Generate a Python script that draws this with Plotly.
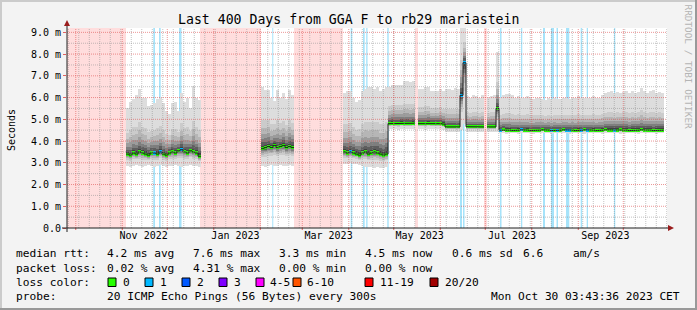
import pandas as pd
import plotly.graph_objects as go

# ------------------------------------------------------------------ data
T_END = pd.Timestamp("2023-10-30 03:43:36")
T_START = T_END - pd.Timedelta(days=400)
BIN = pd.Timedelta(days=2)

seg_A_start = "2022-11-03 12:00"
med_A = [3.40, 3.35, 3.45, 3.40, 3.50, 3.45, 3.40, 3.35, 3.45, 3.45, 3.40, 3.50, 3.40,
         3.35, 3.45, 3.50, 3.45, 3.55, 3.60, 3.50, 3.45, 3.55, 3.50, 3.45, 3.30]
lo_A = [2.85, 2.80, 2.85, 2.90, 2.85, 2.80, 2.85, 2.90, 2.85, 2.80, 2.85, 2.90, 2.85,
        2.80, 2.85, 2.85, 2.90, 2.85, 2.80, 2.85, 2.85, 2.90, 2.85, 2.85, 2.80]
hi_A = [5.5, 5.8, 5.95, 6.1, 6.4, 6.0, 6.0, 5.6, 5.65, 5.75, 5.95, 6.0, 5.75,
        5.4, 5.25, 5.75, 5.8, 5.4, 6.2, 5.8, 6.0, 5.5, 6.55, 6.0, 5.9]

seg_B_start = "2023-02-01 12:00"
med_B = [3.65, 3.70, 3.75, 3.70, 3.80, 3.70, 3.75, 3.80, 3.70, 3.75, 3.70]
lo_B = [2.85, 2.80, 2.85, 2.90, 2.85, 2.85, 2.90, 2.85, 2.85, 2.90, 2.85]
hi_B = [6.5, 6.35, 6.35, 6.0, 5.85, 6.35, 6.0, 6.2, 5.95, 6.35, 6.1]

seg_C_start = "2023-03-28 04:00"
med_C = [3.50, 3.45, 3.50, 3.45, 3.40, 3.35, 3.45, 3.50, 3.40, 3.45, 3.50, 3.45, 3.40, 3.35, 3.40,
         4.80, 4.82, 4.80, 4.80, 4.82, 4.80, 4.80, 4.80, 4.82, None, 4.80, 4.80, 4.80, 4.82, 4.80,
         4.80, 4.80, 4.80, 4.78,
         4.65, 4.65, 4.66, 4.65, 4.65,
         6.10, 7.60,
         4.66, 4.65, 4.65, 4.66, 4.65, 4.65, None, 4.65, 4.66, 4.65,
         5.50,
         4.50, 4.52, 4.50, 4.50, 4.48, 4.50, 4.50, 4.52, 4.50, 4.50,
         4.48, 4.50, 4.50, 4.50, 4.52, 4.50, 4.50, 4.48, 4.50, 4.50,
         4.50, 4.52, 4.50, 4.50, 4.50, 4.48, 4.50, 4.50, 4.52, 4.50,
         4.50, 4.50, 4.48, 4.50, 4.50, 4.52, 4.50, 4.50, 4.50, 4.50,
         4.52, 4.50, 4.50, 4.48, 4.50, 4.50, 4.50, 4.52, 4.50, 4.50,
         4.50, 4.48, 4.50, 4.50, 4.50]
lo_C = [2.95, 2.95, 3.00, 2.95, 2.95, 2.90, 2.85, 2.80, 2.80, 2.80, 2.75, 2.80, 2.75, 2.75, 2.80,
        4.55, 4.55, 4.55, 4.50, 4.55, 4.55, 4.55, 4.55, 4.55, None, 4.55, 4.55, 4.50, 4.55, 4.55,
        4.55, 4.55, 4.55, 4.50,
        4.40, 4.40, 4.40, 4.40, 4.40,
        4.50, 4.80,
        4.40, 4.40, 4.40, 4.40, 4.40, 4.40, None, 4.40, 4.40, 4.40,
        4.40,
        4.35, 4.35, 4.33, 4.35, 4.35, 4.35, 4.33, 4.35, 4.35, 4.35,
        4.35, 4.33, 4.35, 4.35, 4.35, 4.35, 4.35, 4.33, 4.35, 4.35,
        4.35, 4.35, 4.35, 4.33, 4.35, 4.35, 4.35, 4.35, 4.33, 4.35,
        4.35, 4.35, 4.35, 4.35, 4.33, 4.35, 4.35, 4.35, 4.35, 4.35,
        4.33, 4.35, 4.35, 4.35, 4.35, 4.35, 4.33, 4.35, 4.35, 4.35,
        4.35, 4.35, 4.33, 4.35, 4.35]
hi_C = [6.2, 6.3, 6.3, 6.0, 5.8, 5.9, 6.3, 6.4, 6.5, 6.5, 6.4, 6.5, 6.3, 6.4, 6.5,
        6.5, 6.6, 6.6, 6.6, 6.6, 6.75, 6.75, 6.7, 6.75, None, 6.4, 6.4, 6.5, 6.5, 6.3,
        6.3, 6.3, 6.4, 6.3,
        6.4, 6.4, 6.35, 6.45, 6.4,
        9.6, 9.6,
        6.05, 6.0, 6.1, 6.05, 6.0, 6.1, None, 6.0, 6.05, 6.1,
        8.1,
        6.0, 6.1, 6.15, 6.15, 6.1, 6.0, 6.05, 6.0, 6.0, 6.05,
        6.0, 5.95, 6.0, 6.0, 5.95, 5.9, 6.0, 5.95, 6.0, 5.95,
        5.95, 6.0, 6.0, 5.95, 6.0, 6.0, 6.05, 6.0, 6.0, 6.0,
        6.0, 6.05, 6.0, 6.0, 6.1, 6.2, 6.25, 6.3, 6.2, 6.25,
        6.2, 6.25, 6.3, 6.2, 6.3, 6.2, 6.25, 6.45, 6.3, 6.2,
        6.3, 6.35, 6.2, 6.25, 6.2]

# periods with 1/20 lost pings (light blue background)
loss1_start = ["2022-11-21 16:00", "2022-11-25 12:00", "2022-12-08 20:00", "2023-02-09 00:00",
               "2023-04-02 07:00", "2023-04-10 12:00", "2023-04-12 15:00", "2023-04-26 16:00",
               "2023-06-14 04:00", "2023-06-16 04:00", "2023-07-10 20:00", "2023-07-24 20:00",
               "2023-08-08 12:00", "2023-08-13 20:00", "2023-08-17 12:00", "2023-08-23 20:00",
               "2023-09-02 15:00", "2023-09-06 15:00", "2023-09-24 20:00"]
loss1_end = ["2022-11-22 20:00", "2022-11-26 15:00", "2022-12-10 12:00", "2023-02-09 16:00",
             "2023-04-03 08:00", "2023-04-11 15:00", "2023-04-13 12:00", "2023-04-27 15:00",
             "2023-06-15 12:00", "2023-06-17 04:00", "2023-07-11 20:00", "2023-07-25 16:00",
             "2023-08-09 20:00", "2023-08-15 20:00", "2023-08-18 12:00", "2023-08-26 00:00",
             "2023-09-03 15:00", "2023-09-07 12:00", "2023-09-25 16:00"]
# periods with 20/20 lost pings (pink background)
loss20_start = ["2022-09-25 03:43:36", "2022-12-22 20:00", "2023-02-23 12:00",
                "2023-05-15 04:00", "2023-06-30 04:00"]
loss20_end = ["2022-11-03 12:00", "2023-02-01 12:00", "2023-03-28 04:00",
              "2023-05-17 04:00", "2023-07-02 04:00"]

loss_labels = ["0", "1", "2", "3", "4-5", "6-10", "11-19", "20/20"]
loss_colors = ["#26ff00", "#00b8ff", "#0059ff", "#7e00ff", "#ff00ff", "#ff5500", "#ff0000", "#a10000"]

x_tick_vals = ["2022-11-15 06:00", "2023-01-15 11:00", "2023-03-18 13:00",
               "2023-05-18 06:00", "2023-07-18 20:00", "2023-09-19 01:00"]
x_tick_text = ["Nov 2022", "Jan 2023", "Mar 2023", "May 2023", "Jul 2023", "Sep 2023"]
y_tick_vals = [0, 1, 2, 3, 4, 5, 6, 7, 8, 9]
y_tick_text = ["0.0", "1.0 m", "2.0 m", "3.0 m", "4.0 m", "5.0 m", "6.0 m", "7.0 m", "8.0 m", "9.0 m"]

title_text = "Last 400 Days from GGA F to rb29 mariastein"
rtt_row = ["median rtt:", "4.2 ms avg", "7.6 ms max", "3.3 ms min", "4.5 ms now", "0.6 ms sd", "6.6", "am/s"]
loss_row = ["packet loss:", "0.02 % avg", "4.31 % max", "0.00 % min", "0.00 % now"]
probe_row = ["probe:", "20 ICMP Echo Pings (56 Bytes) every 300s"]
date_text = "Mon Oct 30 03:43:36 2023 CET"

# ------------------------------------------------------------------ layout helpers
W, H = 697, 310
L, R, T, B = 67, 30, 28, 82
PW, PH = W - L - R, H - T - B
FONT = "DejaVu Sans Mono"


def px(x):
    return (x - L) / PW


def py(y):
    return (T + PH - y) / PH


# ------------------------------------------------------------------ flatten bins
segments = [(seg_A_start, med_A, lo_A, hi_A), (seg_B_start, med_B, lo_B, hi_B),
            (seg_C_start, med_C, lo_C, hi_C)]
t0s, meds, los, his = [], [], [], []
for start, m, lo, hi in segments:
    s = pd.Timestamp(start)
    for i in range(len(m)):
        t0s.append(s + i * BIN)
        meds.append(m[i])
        los.append(lo[i])
        his.append(hi[i])
centers = [t + BIN / 2 for t in t0s]

l1 = [(pd.Timestamp(a), pd.Timestamp(b)) for a, b in zip(loss1_start, loss1_end)]


def bin_color(t):
    for a, b in l1:
        ov = min(b, t + BIN) - max(a, t)
        if ov >= pd.Timedelta(hours=20):
            return loss_colors[1]
    return loss_colors[0]


fig = go.Figure()

# smoke: nested bands between min/median/max
band_fracs = [1.0, 0.47, 0.34, 0.24, 0.16, 0.10, 0.05]
band_cols = ["#dddddd", "#cbcbcb", "#b6b6b6", "#9c9c9c", "#7e7e7e", "#5e5e5e", "#414141"]
width_ms = BIN.total_seconds() * 1000
for f, c in zip(band_fracs, band_cols):
    base, hgt = [], []
    for m, lo, hi in zip(meds, los, his):
        if m is None:
            base.append(None)
            hgt.append(None)
            continue
        b0 = m - f * (m - lo)
        b1 = m + f * (hi - m)
        base.append(b0)
        hgt.append(b1 - b0)
    fig.add_trace(go.Bar(x=centers, y=hgt, base=base, width=width_ms,
                         marker=dict(color=c, line=dict(width=0)), hoverinfo="skip",
                         showlegend=False))

# median line (black, stepped)
lx, ly = [], []
prev_end = None
for t, m in zip(t0s, meds):
    if m is None:
        lx.append(None); ly.append(None)
        prev_end = None
        continue
    if prev_end is not None and prev_end != t:
        lx.append(None); ly.append(None)
    lx += [t, t + BIN]
    ly += [m, m]
    prev_end = t + BIN
fig.add_trace(go.Scatter(x=lx, y=ly, mode="lines", line=dict(color="#202020", width=1),
                         connectgaps=False, hoverinfo="skip", showlegend=False))

# median coloured by loss
mb, mh, mc = [], [], []
for t, m in zip(t0s, meds):
    if m is None:
        mb.append(None); mh.append(None); mc.append(loss_colors[0])
    else:
        mb.append(m - 0.07); mh.append(0.14); mc.append(bin_color(t))
fig.add_trace(go.Bar(x=centers, y=mh, base=mb, width=width_ms,
                     marker=dict(color=mc, line=dict(width=0)), hoverinfo="skip",
                     showlegend=False))

shapes = []
# loss backgrounds
for a, b in zip(loss20_start, loss20_end):
    shapes.append(dict(type="rect", xref="x", yref="paper", x0=a, x1=b, y0=0, y1=1,
                       fillcolor="#ffdddd", line=dict(width=0), layer="below"))
for a, b in zip(loss1_start, loss1_end):
    shapes.append(dict(type="rect", xref="x", yref="paper", x0=a, x1=b, y0=0, y1=1,
                       fillcolor="#a6e3fa", line=dict(width=0), layer="below"))

# grid (drawn above data like rrdtool)
minor_col = "rgba(143,143,143,0.55)"
major_col = "rgba(222,80,80,0.6)"
DOT = "1px,1px"
for d in pd.date_range("2022-09-26", T_END, freq="7D"):
    shapes.append(dict(type="line", xref="x", yref="paper", x0=d, x1=d, y0=0, y1=1,
                       line=dict(color=minor_col, width=1, dash=DOT), layer="above"))
for d in pd.date_range("2022-10-01", T_END, freq="MS"):
    shapes.append(dict(type="line", xref="x", yref="paper", x0=d, x1=d, y0=0, y1=1,
                       line=dict(color=major_col, width=1, dash=DOT), layer="above"))
    shapes.append(dict(type="line", xref="x", yref="paper", x0=d, x1=d, y0=-2 / PH, y1=0,
                       line=dict(color="rgba(222,80,80,0.9)", width=1), layer="above"))
for v in [0.5, 1.5, 2.5, 3.5, 4.5, 5.5, 6.5, 7.5, 8.5]:
    shapes.append(dict(type="line", xref="paper", yref="y", x0=0, x1=1, y0=v, y1=v,
                       line=dict(color=minor_col, width=1, dash=DOT), layer="above"))
for v in y_tick_vals[1:]:
    shapes.append(dict(type="line", xref="paper", yref="y", x0=0, x1=1, y0=v, y1=v,
                       line=dict(color=major_col, width=1, dash=DOT), layer="above"))

# axes lines and arrows
shapes.append(dict(type="line", xref="paper", yref="paper", x0=px(62), x1=px(669), y0=0, y1=0,
                   line=dict(color="#202020", width=1), layer="above"))
shapes.append(dict(type="line", xref="paper", yref="paper", x0=0, x1=0, y0=py(232), y1=py(24),
                   line=dict(color="#202020", width=1), layer="above"))
shapes.append(dict(type="path", xref="paper", yref="paper",
                   path=f"M {px(668)} {py(225)} L {px(674)} {py(228)} L {px(668)} {py(231)} Z",
                   fillcolor="#9a1c1c", line=dict(width=0), layer="above"))
shapes.append(dict(type="path", xref="paper", yref="paper",
                   path=f"M {px(64)} {py(26)} L {px(67)} {py(20)} L {px(70)} {py(26)} Z",
                   fillcolor="#9a1c1c", line=dict(width=0), layer="above"))

# image frame (3d shade)
shapes.append(dict(type="line", xref="paper", yref="paper", x0=px(0), x1=px(W), y0=py(1), y1=py(1),
                   line=dict(color="#cbcbcb", width=2), layer="above"))
shapes.append(dict(type="line", xref="paper", yref="paper", x0=px(1), x1=px(1), y0=py(0), y1=py(H),
                   line=dict(color="#cbcbcb", width=2), layer="above"))
shapes.append(dict(type="line", xref="paper", yref="paper", x0=px(0), x1=px(W), y0=py(H - 1), y1=py(H - 1),
                   line=dict(color="#999999", width=2), layer="above"))
shapes.append(dict(type="line", xref="paper", yref="paper", x0=px(W - 1), x1=px(W - 1), y0=py(0), y1=py(H),
                   line=dict(color="#999999", width=2), layer="above"))

# legend colour boxes
box_x = [108, 145, 182, 219, 256, 293, 365, 430]
lab_x = [123, 160, 197, 233.5, 270, 307, 380, 445]
for bx, c in zip(box_x, loss_colors):
    shapes.append(dict(type="rect", xref="paper", yref="paper", x0=px(bx), x1=px(bx + 8),
                       y0=py(286.5), y1=py(278), fillcolor=c,
                       line=dict(color="#000000", width=1), layer="above"))

ann = []


def text(x, y, s, size=11.2, anchor="left", color="#000000", angle=0, yanchor="middle"):
    ann.append(dict(x=px(x), y=py(y), xref="paper", yref="paper", text=s, showarrow=False,
                    xanchor=anchor, yanchor=yanchor, textangle=angle, borderpad=0, borderwidth=0,
                    font=dict(family=FONT, size=size, color=color)))


text(348, 19.5, title_text, size=13.2, anchor="center")
text(11, 130, "Seconds", size=10, anchor="center", angle=-90)
text(688, 4, "RRDTOOL / TOBI OETIKER", size=9.4, anchor="center", color="#b4b4b4", angle=90,
     yanchor="top")
row_x = [16, 107.3, 192.7, 279.3, 365, 451.7, 523.3, 572.7]
for xx, s in zip(row_x, rtt_row):
    text(xx, 254, s)
for xx, s in zip(row_x, loss_row):
    text(xx, 268.3, s)
text(16, 282.3, "loss color:")
for xx, s in zip(lab_x, loss_labels):
    text(xx, 282.3, s)
for xx, s in zip(row_x, probe_row):
    text(xx, 296, s)
text(680, 296, date_text, anchor="right")

fig.update_layout(
    width=W, height=H, margin=dict(l=L, r=R, t=T, b=B, autoexpand=False),
    paper_bgcolor="#f3f3f3", plot_bgcolor="#ffffff",
    barmode="overlay", bargap=0, showlegend=False,
    shapes=shapes, annotations=ann,
    xaxis=dict(type="date", range=[T_START, T_END], tickvals=x_tick_vals, ticktext=x_tick_text,
               ticks="", showgrid=False, zeroline=False, showline=False,
               tickfont=dict(family=FONT, size=10, color="#000000"), fixedrange=True),
    yaxis=dict(range=[0, 9.2], tickvals=y_tick_vals, ticktext=y_tick_text, ticks="outside",
               ticklen=3, tickcolor="rgba(222,80,80,0.9)", showgrid=False, zeroline=False,
               showline=False, tickfont=dict(family=FONT, size=10, color="#000000"),
               fixedrange=True),
)

fig.write_html("out.html")
